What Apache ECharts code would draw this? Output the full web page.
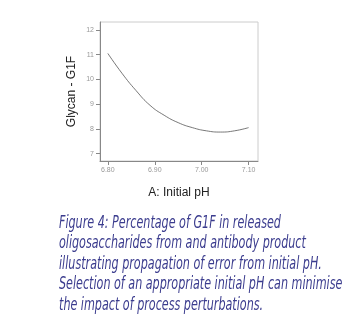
<!DOCTYPE html>
<html><head><meta charset="utf-8">
<script src="https://cdn.jsdelivr.net/npm/echarts@6/dist/echarts.min.js"></script>
<style>html,body{margin:0;padding:0;background:#fff}#c{width:359px;height:329px}</style>
</head><body><div id="c"></div>
<script>
const phValues = [6.80, 6.83, 6.86, 6.89, 6.92, 6.95, 6.98, 7.01, 7.04, 7.07, 7.10];
const g1fValues = [11.05, 10.25, 9.55, 8.95, 8.55, 8.25, 8.05, 7.92, 7.87, 7.92, 8.05];
const xTicks = [6.80, 6.90, 7.00, 7.10];
const yTicks = [7, 8, 9, 10, 11, 12];
const captionLines = [
  'Figure 4: Percentage of G1F in released',
  'oligosaccharides from and antibody product',
  'illustrating propagation of error from initial pH.',
  'Selection of an appropriate initial pH can minimise',
  'the impact of process perturbations.'
];
const chart = echarts.init(document.getElementById('c'), null, {renderer: 'canvas'});
const tickFont = {color: '#999', fontSize: 7, fontFamily: 'Liberation Sans'};
chart.setOption({
  animation: false,
  grid: {left: 100, top: 22, width: 158, height: 139, show: true, borderColor: '#ccc', borderWidth: 1},
  xAxis: {
    type: 'value', min: 6.7833, max: 7.12,
    name: 'A: Initial pH', nameLocation: 'middle', nameGap: 26,
    nameTextStyle: {fontSize: 12, color: '#222', fontFamily: 'Liberation Sans'},
    axisLine: {show: true, lineStyle: {color: '#888'}},
    axisTick: {show: true, length: 4, lineStyle: {color: '#888'}, customValues: xTicks},
    axisLabel: Object.assign({margin: 6, customValues: xTicks, formatter: v => v.toFixed(2)}, tickFont),
    splitLine: {show: false}
  },
  yAxis: {
    type: 'value', min: 6.70, max: 12.32,
    name: 'Glycan - G1F', nameLocation: 'middle', nameGap: 22, nameRotate: 90,
    nameTextStyle: {fontSize: 12, color: '#222', fontFamily: 'Liberation Sans'},
    axisLine: {show: true, lineStyle: {color: '#888'}},
    axisTick: {show: true, length: 4, lineStyle: {color: '#888'}, customValues: yTicks},
    axisLabel: Object.assign({margin: 6, customValues: yTicks, formatter: v => String(v)}, tickFont),
    splitLine: {show: false}
  },
  series: [{
    type: 'line', smooth: true, symbol: 'none',
    data: phValues.map((x, i) => [x, g1fValues[i]]),
    lineStyle: {color: '#555', width: 0.8}
  }],
  graphic: captionLines.map((t, i) => ({
    type: 'text', x: 59, y: 215 + i * 20.5, scaleX: 0.73,
    style: {text: t, fill: '#3b3c8e', fontSize: 17, fontStyle: 'italic',
      fontFamily: '"Liberation Sans Narrow", "DejaVu Sans Condensed", sans-serif'}
  }))
});
</script></body></html>
